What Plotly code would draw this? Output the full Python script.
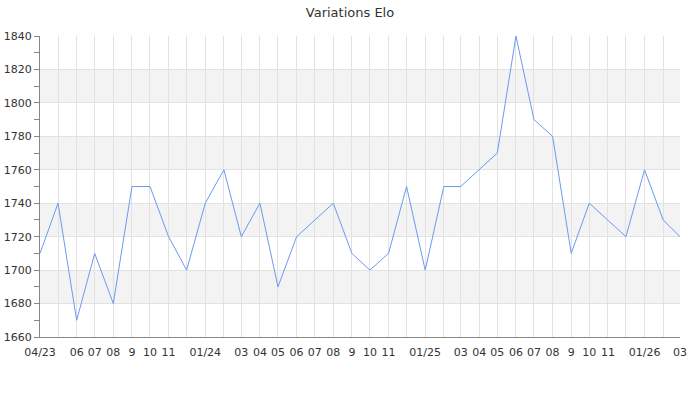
import plotly.graph_objects as go

months = ["2023-04-01","2023-05-01","2023-06-01","2023-07-01","2023-08-01","2023-09-01","2023-10-01","2023-11-01","2023-12-01",
          "2024-01-01","2024-02-01","2024-03-01","2024-04-01","2024-05-01","2024-06-01","2024-07-01","2024-08-01","2024-09-01",
          "2024-10-01","2024-11-01","2024-12-01","2025-01-01","2025-02-01","2025-03-01","2025-04-01","2025-05-01","2025-06-01",
          "2025-07-01","2025-08-01","2025-09-01","2025-10-01","2025-11-01","2025-12-01","2026-01-01","2026-02-01","2026-03-01"]
elo = [1710,1740,1670,1710,1680,1750,1750,1720,1700,
       1740,1760,1720,1740,1690,1720,1730,1740,1710,
       1700,1710,1750,1700,1750,1750,1760,1770,1840,
       1790,1780,1710,1740,1730,1720,1760,1730,1720]
tick_text = ["04/23","","06","07","08","9","10","11","",
             "01/24","","03","04","05","06","07","08","9",
             "10","11","","01/25","","03","04","05","06",
             "07","08","9","10","11","","01/26","","03"]
y_ticks = [1660,1680,1700,1720,1740,1760,1780,1800,1820,1840]
bands = [(1680,1700),(1720,1740),(1760,1780),(1800,1820)]

fig = go.Figure()
fig.add_trace(go.Scatter(x=months, y=elo, mode="lines",
                         line=dict(color="#6a9af0", width=1), hoverinfo="x+y"))

shapes = [dict(type="rect", xref="paper", yref="y", x0=0, x1=1, y0=a, y1=b,
               fillcolor="#f3f3f3", line=dict(width=0), layer="below") for a, b in bands]

fig.update_layout(
    width=700, height=400,
    margin=dict(l=40, r=20, t=36, b=63),
    paper_bgcolor="white", plot_bgcolor="white",
    showlegend=False,
    font=dict(family="DejaVu Sans", size=11, color="#333"),
    title=dict(text="Variations Elo", x=0.5, xanchor="center", yref="container", y=0.97, yanchor="middle",
               font=dict(family="DejaVu Sans", size=13, color="#333")),
    shapes=shapes,
    xaxis=dict(type="date", range=[months[0], months[-1]], automargin=False,
               tickmode="array", tickvals=months, ticktext=tick_text,
               showgrid=True, gridcolor="#e2e2e2", gridwidth=1,
               showline=True, linecolor="#888", linewidth=1,
               ticks="", zeroline=False, tickfont=dict(size=11, color="#333"),
               tickangle=0, ticklabelstandoff=5),
    yaxis=dict(range=[1660, 1840], tickmode="array", tickvals=y_ticks, automargin=False,
               showgrid=True, gridcolor="#e2e2e2", gridwidth=1,
               showline=True, linecolor="#888", linewidth=1,
               ticks="outside", ticklen=5, tickcolor="#888",
               minor=dict(ticks="outside", dtick=10, ticklen=5, tickcolor="#888", showgrid=False),
               zeroline=False, tickfont=dict(size=11, color="#333")),
)
fig.write_html("out.html", config={"displayModeBar": False},
               post_script="document.body.style.margin='0';")
